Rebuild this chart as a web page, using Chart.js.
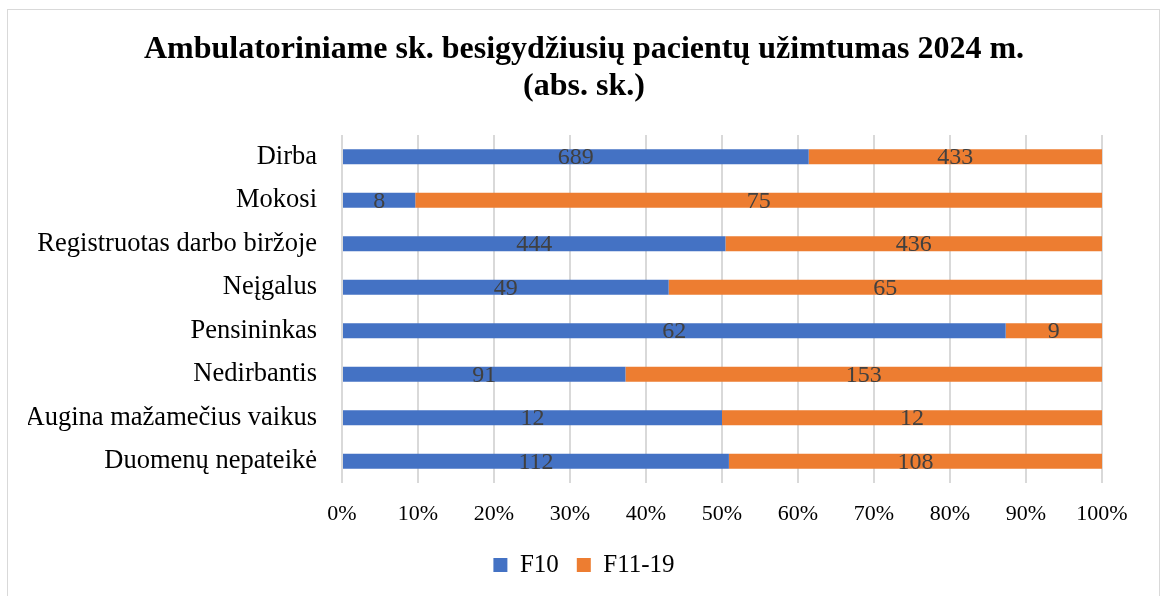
<!DOCTYPE html>
<html>
<head>
<meta charset="utf-8">
<script src="https://cdn.jsdelivr.net/npm/chart.js@4/dist/chart.umd.min.js"></script>
<style>
html,body{margin:0;padding:0;background:#fff;width:1162px;height:596px;overflow:hidden;}
#frame{position:absolute;left:7px;top:9px;width:1153px;height:620px;border:1.5px solid #d9d9d9;box-sizing:border-box;}
#wrap{position:absolute;left:0;top:0;width:1162px;height:596px;}
</style>
</head>
<body>
<div id="frame"></div>
<div id="wrap"><canvas id="c" width="1162" height="596"></canvas></div>
<script>
const categories = ["Dirba","Mokosi","Registruotas darbo biržoje","Neįgalus","Pensininkas","Nedirbantis","Augina mažamečius vaikus","Duomenų nepateikė"];
const f10 = [689, 8, 444, 49, 62, 91, 12, 112];
const f1119 = [433, 75, 436, 65, 9, 153, 12, 108];
const tickLabels = ["0%","10%","20%","30%","40%","50%","60%","70%","80%","90%","100%"];
const seriesNames = ["F10","F11-19"];
const titleLines = ["Ambulatoriniame sk. besigydžiusių pacientų užimtumas 2024 m.","(abs. sk.)"];

const totals = f10.map((v,i)=>v+f1119[i]);
const pct = arr => arr.map((v,i)=>v/totals[i]*100);
const rawValues = [f10, f1119];

const serif = "'Liberation Serif', 'DejaVu Serif', serif";

const labelPlugin = {
  id:'segLabels',
  afterDatasetsDraw(chart){
    const ctx = chart.ctx;
    ctx.save();
    ctx.font = "24px " + serif;
    ctx.fillStyle = "#404040";
    ctx.textAlign = "center";
    ctx.textBaseline = "middle";
    chart.data.datasets.forEach((ds,di)=>{
      const meta = chart.getDatasetMeta(di);
      meta.data.forEach((el,i)=>{
        const cx = (el.x + el.base)/2;
        ctx.fillText(String(rawValues[di][i]), cx, el.y+1);
      });
    });
    ctx.restore();
  }
};

new Chart(document.getElementById('c'), {
  type:'bar',
  data:{
    labels: categories,
    datasets:[
      {label:seriesNames[0], data:pct(f10), backgroundColor:'#4472c4', borderWidth:0},
      {label:seriesNames[1], data:pct(f1119), backgroundColor:'#ed7d31', borderWidth:0}
    ]
  },
  options:{
    indexAxis:'y',
    responsive:false,
    animation:false,
    devicePixelRatio:1,
    layout:{padding:{left:28,right:22,top:0,bottom:8.5}},
    categoryPercentage:1,
    barPercentage:0.35,
    scales:{
      x:{
        stacked:true, min:0, max:100,
        afterFit:(s)=>{ s.height = 51.5; },
        ticks:{stepSize:10, padding:18, color:'#000', font:{family:serif,size:22},
          callback:(v,i)=>tickLabels[i]},
        grid:{color:'#d9d9d9', lineWidth:2, drawTicks:false},
        border:{display:false}
      },
      y:{
        stacked:true,
        afterFit:(s)=>{ s.width = 314; },
        ticks:{padding:25, color:'#000', font:{family:serif,size:26.5}},
        grid:{display:false, drawTicks:false},
        border:{display:false}
      },
      y2:{
        type:'category', position:'right', display:true,
        afterFit:(s)=>{ s.width = 38; },
        ticks:{display:false},
        grid:{display:false, drawTicks:false},
        border:{display:false}
      }
    },
    plugins:{
      title:{display:true, text:titleLines, color:'#000',
        font:{family:serif,size:32,weight:'bold',lineHeight:37/32},
        padding:{top:31,bottom:30}},
      legend:{position:'bottom', labels:{color:'#000', font:{family:serif,size:25},
        boxWidth:14, boxHeight:14, padding:18}},
      tooltip:{enabled:false}
    }
  },
  plugins:[labelPlugin]
});
</script>
</body>
</html>
